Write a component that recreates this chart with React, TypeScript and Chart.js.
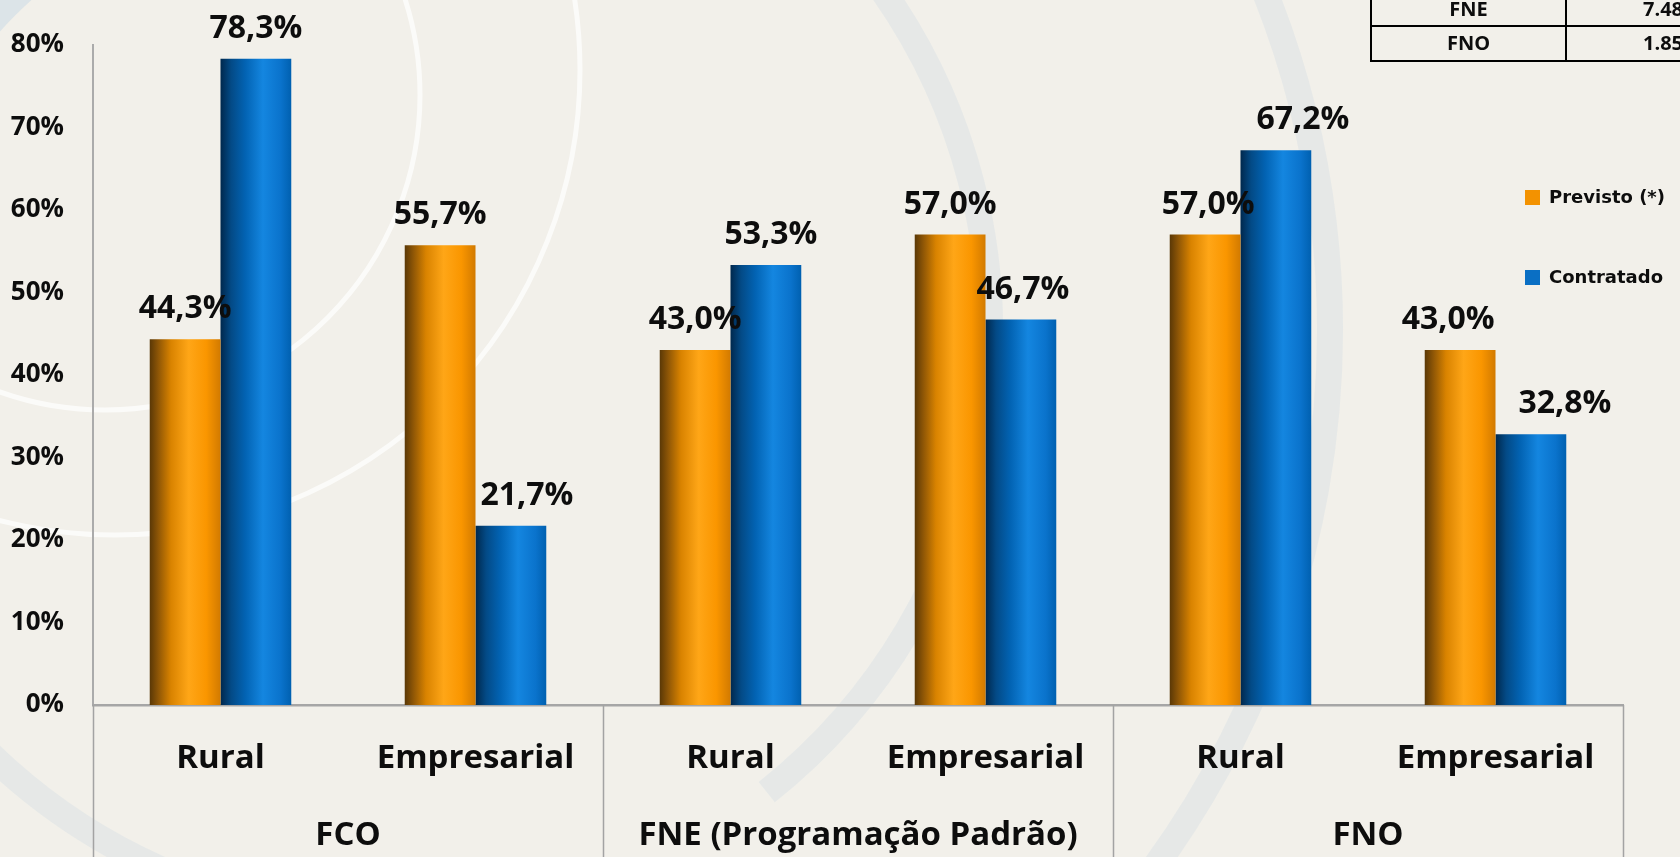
import { useEffect, useRef } from "react";
import { Chart, registerables } from "chart.js";

Chart.register(...registerables);

// ---- data ----
const categories = ["Rural", "Empresarial", "Rural", "Empresarial", "Rural", "Empresarial"];
const groups = ["FCO", "FNE (Programação Padrão)", "FNO"];
const seriesNames = ["Previsto (*)", "Contratado"];
const previsto = [44.3, 55.7, 43.0, 57.0, 57.0, 43.0];
const contratado = [78.3, 21.7, 53.3, 46.7, 67.2, 32.8];
const yMin = 0;
const yMax = 80;
const yStep = 10;
const tableFunds = ["FNE", "FNO"];
const tableValues = ["7.48", "1.85"];

// ---- styles ----
const CAT_PCT = 0.555;
const ORANGE = "#F39200";
const BLUE = "#0A6FC4";
// horizontal nudges (px) of the value labels, as placed in the original
const labelNudge = [
  [0, 0, 0, 0, 3, -12],
  [0, 16, 5, 2, 27, 34],
];
const orangeStops: [number, string][] = [
  [0, "#5A3806"],
  [0.12, "#8E5606"],
  [0.3, "#D98300"],
  [0.55, "#FFA617"],
  [0.8, "#FA9600"],
  [1, "#D27A00"],
];
const blueStops: [number, string][] = [
  [0, "#00284D"],
  [0.15, "#034A86"],
  [0.35, "#0263B3"],
  [0.6, "#1486E0"],
  [0.85, "#0A73CC"],
  [1, "#0060B0"],
];
const TEXT = "#0d0d0d";
const LABEL_FONT = '"Open Sans", "Noto Sans", sans-serif';
const LEGEND_FONT = '"DejaVu Sans", Verdana, sans-serif';

function barGradient(c: any, stops: [number, string][], fallback: string) {
  const chart = c.chart;
  const xs = chart.scales && chart.scales.x;
  if (!xs || !chart.chartArea || c.type !== "data") return fallback;
  const cw = (xs.right - xs.left) / categories.length;
  const bw = (cw * CAT_PCT) / 2;
  const center = xs.getPixelForValue(c.dataIndex) + (c.datasetIndex === 0 ? -bw / 2 : bw / 2);
  const g = chart.ctx.createLinearGradient(center - bw / 2, 0, center + bw / 2, 0);
  stops.forEach(([o, col]) => g.addColorStop(o, col));
  return g;
}

function arcSeg(ctx: any, cx: number, cy: number, r: number, a0: number, a1: number) {
  ctx.beginPath();
  ctx.arc(cx, cy, r, a0, a1);
  ctx.stroke();
}

const backgroundPlugin = {
  id: "bgDecor",
  beforeDraw(chart: any) {
    const { ctx, width, height } = chart;
    ctx.save();
    ctx.fillStyle = "#F2F0EA";
    ctx.fillRect(0, 0, width, height);
    // faint blue-grey swirls
    ctx.strokeStyle = "rgba(208,220,228,0.36)";
    ctx.lineWidth = 26;
    arcSeg(ctx, 400, 330, 590, -0.62, 0.9);
    arcSeg(ctx, 400, 330, 590, 1.95, 2.65);
    arcSeg(ctx, 420, 330, 910, -0.4, 0.75);
    ctx.strokeStyle = "rgba(205,220,230,0.6)";
    ctx.lineWidth = 34;
    arcSeg(ctx, 330, 330, 462, Math.PI * 1.1, Math.PI * 1.4);
    // white rings
    ctx.strokeStyle = "rgba(255,255,255,0.7)";
    ctx.lineWidth = 5;
    arcSeg(ctx, 105, 95, 315, 0, Math.PI * 2);
    arcSeg(ctx, 115, 70, 465, 0, Math.PI * 2);
    ctx.restore();
  },
};

const fmt = (v: number) => v.toFixed(1).replace(".", ",") + "%";

const labelsPlugin = {
  id: "valueLabels",
  afterDatasetsDraw(chart: any) {
    const { ctx } = chart;
    ctx.save();
    ctx.font = `bold 32px ${LABEL_FONT}`;
    ctx.fillStyle = TEXT;
    ctx.textAlign = "center";
    ctx.textBaseline = "middle";
    chart.data.datasets.forEach((ds: any, di: number) => {
      const meta = chart.getDatasetMeta(di);
      meta.data.forEach((el: any, i: number) => {
        ctx.fillText(fmt(ds.data[i]), el.x + labelNudge[di][i], el.y - 30);
      });
    });
    ctx.restore();
  },
};

const decorPlugin = {
  id: "decor",
  afterDraw(chart: any) {
    const { ctx, height } = chart;
    const xs = chart.scales.x;
    const area = chart.chartArea;
    ctx.save();
    // group separators in the axis area
    ctx.strokeStyle = "#A3A3A3";
    ctx.lineWidth = 1.5;
    const n = groups.length;
    for (let k = 0; k <= n; k++) {
      const px = Math.round(xs.left + ((xs.right - xs.left) * k) / n) + 0.5;
      ctx.beginPath();
      ctx.moveTo(px, area.bottom);
      ctx.lineTo(px, height);
      ctx.stroke();
    }
    // legend
    const legendX = 1525;
    const legendY = [197, 277];
    const colors = [ORANGE, BLUE];
    ctx.font = `bold 18px ${LEGEND_FONT}`;
    ctx.textAlign = "left";
    ctx.textBaseline = "middle";
    seriesNames.forEach((name, i) => {
      ctx.fillStyle = colors[i];
      ctx.fillRect(legendX, legendY[i] - 7, 15, 15);
      ctx.fillStyle = TEXT;
      ctx.fillText(name, legendX + 24, legendY[i] + 1);
    });
    // table (top-right, partly cut off)
    ctx.strokeStyle = "#000";
    ctx.lineWidth = 2;
    const tL = 1371, tM = 1566, rowLines = [26, 61];
    ctx.beginPath();
    rowLines.forEach((y) => {
      ctx.moveTo(tL - 1, y);
      ctx.lineTo(chart.width, y);
    });
    ctx.moveTo(tL, 0);
    ctx.lineTo(tL, 62);
    ctx.moveTo(tM, 0);
    ctx.lineTo(tM, 62);
    ctx.stroke();
    ctx.font = `bold 20px ${LABEL_FONT}`;
    ctx.fillStyle = TEXT;
    const rowCenters = [10, 44];
    tableFunds.forEach((f, i) => {
      ctx.textAlign = "center";
      ctx.fillText(f, (tL + tM) / 2, rowCenters[i]);
      ctx.textAlign = "left";
      ctx.fillText(tableValues[i], 1643, rowCenters[i]);
    });
    ctx.restore();
  },
};

export default function App() {
  const canvasRef = useRef<HTMLCanvasElement | null>(null);

  useEffect(() => {
    if (!canvasRef.current) return;
    const chart = new Chart(canvasRef.current, {
      type: "bar",
      data: {
        labels: categories,
        datasets: [
          {
            label: seriesNames[0],
            data: previsto,
            backgroundColor: (c: any) => barGradient(c, orangeStops, ORANGE),
            borderWidth: 0,
            categoryPercentage: CAT_PCT,
            barPercentage: 1,
          },
          {
            label: seriesNames[1],
            data: contratado,
            backgroundColor: (c: any) => barGradient(c, blueStops, BLUE),
            borderWidth: 0,
            categoryPercentage: CAT_PCT,
            barPercentage: 1,
          },
        ],
      },
      options: {
        animation: false,
        responsive: true,
        maintainAspectRatio: false,
        devicePixelRatio: 1,
        layout: { padding: { left: 4, right: 57, top: 42, bottom: 0 } },
        plugins: {
          legend: { display: false },
          tooltip: { enabled: false },
        },
        scales: {
          y: {
            min: yMin,
            max: yMax,
            grid: { display: false, drawTicks: false },
            border: { display: true, color: "#ABABAB", width: 2 },
            ticks: {
              stepSize: yStep,
              padding: 29,
              color: TEXT,
              font: { family: LABEL_FONT, weight: "bold", size: 26 },
              callback: (v: any) => v + "%",
            },
            afterFit: (s: any) => {
              s.width = 89;
            },
          },
          x: {
            position: "bottom",
            weight: 0,
            grid: { display: false, drawTicks: false },
            border: { display: true, color: "#A6A6A6", width: 2.5 },
            ticks: {
              padding: 34,
              color: TEXT,
              autoSkip: false,
              maxRotation: 0,
              font: { family: LABEL_FONT, weight: "bold", size: 33 },
            },
            afterFit: (s: any) => {
              s.height = 76;
            },
          },
          x2: {
            type: "category",
            position: "bottom",
            weight: 1,
            labels: groups,
            offset: true,
            grid: { display: false, drawTicks: false },
            border: { display: false },
            ticks: {
              padding: 35,
              color: TEXT,
              autoSkip: false,
              maxRotation: 0,
              font: { family: LABEL_FONT, weight: "bold", size: 33 },
            },
            afterFit: (s: any) => {
              s.height = 76;
            },
          },
        },
      },
      plugins: [backgroundPlugin, labelsPlugin, decorPlugin],
    });
    return () => chart.destroy();
  }, []);

  return (
    <div style={{ position: "fixed", left: 0, top: 0, width: 1680, height: 857, background: "#F2F0EA" }}>
      <canvas ref={canvasRef} />
    </div>
  );
}
